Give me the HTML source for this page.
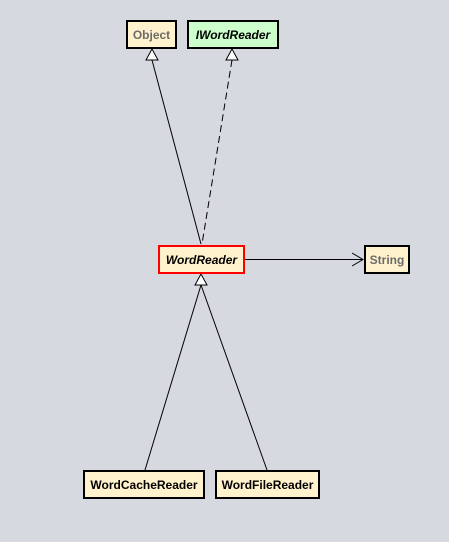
<!DOCTYPE html>
<html><head><style>
html,body{margin:0;padding:0;background:#d6d9e0;}
svg{display:block;}
text{font-family:"Liberation Sans",sans-serif;font-weight:bold;font-size:12px;}
</style></head><body>
<svg width="449" height="542" viewBox="0 0 449 542" xmlns="http://www.w3.org/2000/svg">
<rect width="449" height="542" fill="#d6d9e0"/>
<!-- connectors -->
<line x1="152" y1="60" x2="201" y2="244" stroke="#000" stroke-width="1"/>
<line x1="232" y1="60" x2="202" y2="244" stroke="#000" stroke-width="1" stroke-dasharray="7,4"/>
<line x1="244" y1="259.5" x2="363" y2="259.5" stroke="#000" stroke-width="1"/>
<polyline points="352,253 363,259.5 352,266" fill="none" stroke="#000" stroke-width="1"/>
<line x1="201" y1="285" x2="145" y2="470" stroke="#000" stroke-width="1"/>
<line x1="201" y1="285" x2="267" y2="470" stroke="#000" stroke-width="1"/>
<!-- triangles -->
<polygon points="152,49 146,60 158,60" fill="#fff" stroke="#000" stroke-width="1"/>
<polygon points="232,49 226,60 238,60" fill="#fff" stroke="#000" stroke-width="1"/>
<polygon points="201,274 195,285 207,285" fill="#fff" stroke="#000" stroke-width="1"/>
<!-- boxes -->
<rect x="127" y="21" width="49" height="27" fill="#fff2cc" stroke="#000" stroke-width="2"/>
<text x="151.5" y="39" text-anchor="middle" fill="#6b6b6b">Object</text>
<rect x="188" y="21" width="90" height="27" fill="#ccffcc" stroke="#000" stroke-width="2"/>
<text x="233" y="39" text-anchor="middle" font-style="italic" fill="#000">IWordReader</text>
<rect x="159" y="246" width="85" height="27" fill="#fff2cc" stroke="#ff0000" stroke-width="2"/>
<text x="201.5" y="264" text-anchor="middle" font-style="italic" fill="#000">WordReader</text>
<rect x="365" y="246" width="44" height="27" fill="#fff2cc" stroke="#000" stroke-width="2"/>
<text x="387" y="264" text-anchor="middle" fill="#6b6b6b">String</text>
<rect x="84" y="471" width="120" height="27" fill="#fff2cc" stroke="#000" stroke-width="2"/>
<text x="144" y="489" text-anchor="middle" fill="#000">WordCacheReader</text>
<rect x="216" y="471" width="103" height="27" fill="#fff2cc" stroke="#000" stroke-width="2"/>
<text x="267.5" y="489" text-anchor="middle" fill="#000">WordFileReader</text>
</svg>
</body></html>
